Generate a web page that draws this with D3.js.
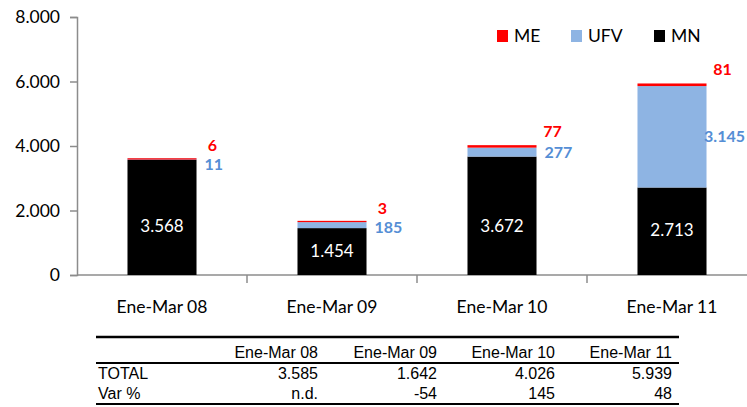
<!DOCTYPE html>
<html>
<head>
<meta charset="utf-8">
<script src="https://cdn.jsdelivr.net/npm/d3@7"></script>
<style>
  body { margin: 0; background: #fff; }
  svg { display: block; }
  .axis path, .axis line { stroke: #8c8c8c; stroke-width: 1.5px; }
  .axis text { font-family: Lato, sans-serif; font-size: 17.5px; fill: #000; }
  .tbl { font-family: "Liberation Sans", Arial, sans-serif; font-size: 16px; fill: #000; }
</style>
</head>
<body>
<svg id="chart" width="747" height="407"></svg>
<script>
// data
let periods = ['Ene-Mar 08', 'Ene-Mar 09', 'Ene-Mar 10', 'Ene-Mar 11'];
let mnValues = [3568, 1454, 3672, 2713];
let ufvValues = [11, 185, 277, 3145];
let meValues = [6, 3, 77, 81];
let totals = [3585, 1642, 4026, 5939];
let varPct = ['n.d.', '-54', '145', '48'];
let yTicks = [0, 2000, 4000, 6000, 8000];
let seriesNames = ['ME', 'UFV', 'MN'];

let colors = { MN: '#000000', UFV: '#8eb4e3', ME: '#ff0000' };
let labelColors = { UFV: '#558ed5', ME: '#ff0000' };

let locale = d3.formatLocale({ decimal: ',', thousands: '.', grouping: [3], currency: ['', ''] });
let fmt = locale.format(',d');

let svg = d3.select('#chart');
let margin = { top: 17, left: 77 };
let plotBottom = 275;
let svgWidth = 747;

let xScale = d3.scaleBand()
  .domain(periods)
  .range([margin.left, margin.left + 170 * 4])
  .paddingInner(0.594)
  .paddingOuter(0.297);
let yScale = d3.scaleLinear()
  .domain([0, 8000])
  .range([plotBottom, margin.top]);

// build stacked rows
let rows = periods.map((p, i) => ({ period: p, MN: mnValues[i], UFV: ufvValues[i], ME: meValues[i] }));
let stack = d3.stack().keys(['MN', 'UFV', 'ME']);
let layers = stack(rows);

// y axis
svg.append('g')
  .attr('class', 'axis')
  .attr('transform', `translate(${margin.left},0)`)
  .call(d3.axisLeft(yScale).tickValues(yTicks).tickFormat(fmt).tickSizeOuter(0).tickSize(7).tickPadding(10));

// x axis (boundary ticks between categories)
let xAxisG = svg.append('g')
  .attr('class', 'axis')
  .attr('transform', `translate(0,${plotBottom})`);
xAxisG.append('line')
  .attr('x1', margin.left).attr('x2', xScale.range()[1])
  .attr('y1', 0).attr('y2', 0);
xAxisG.selectAll('.tk')
  .data(periods.slice(1))
  .join('line')
  .attr('x1', d => xScale(d) - xScale.step() * xScale.paddingInner() / 2)
  .attr('x2', d => xScale(d) - xScale.step() * xScale.paddingInner() / 2)
  .attr('y1', 0).attr('y2', 8);
xAxisG.selectAll('text')
  .data(periods)
  .join('text')
  .attr('x', d => xScale(d) + xScale.bandwidth() / 2)
  .attr('y', 38)
  .attr('text-anchor', 'middle')
  .text(d => d);

// bars
for (let layer of layers) {
  svg.append('g')
    .selectAll('rect')
    .data(layer)
    .join('rect')
    .attr('x', d => xScale(d.data.period))
    .attr('width', xScale.bandwidth())
    .attr('y', d => Math.min(yScale(d[1]), yScale(d[0]) - 1.3))
    .attr('height', d => Math.max(yScale(d[0]) - yScale(d[1]), 1.3))
    .attr('fill', colors[layer.key]);
}

// MN labels inside
svg.append('g')
  .selectAll('text')
  .data(rows)
  .join('text')
  .attr('x', d => xScale(d.period) + xScale.bandwidth() / 2)
  .attr('y', d => yScale(Math.min(d.MN, 3000) / 2) - 1)
  .attr('dy', '0.35em')
  .attr('text-anchor', 'middle')
  .style('font-family', 'Lato, sans-serif')
  .style('font-size', '17px')
  .style('fill', '#fff')
  .text(d => fmt(d.MN));

// UFV and ME labels to the right
rows.forEach((d, i) => {
  let right = xScale(d.period) + xScale.bandwidth();
  let meY = yScale(totals[i]) - 14;
  let ufvY = Math.max(yScale(d.MN + d.UFV / 2), meY + 19);
  let ufvText = svg.append('text')
    .attr('x', right + 8)
    .attr('y', ufvY)
    .attr('dy', '0.35em')
    .style('font-family', 'Lato, sans-serif')
    .style('font-weight', 'bold')
    .style('font-size', '16px')
    .style('fill', labelColors.UFV)
    .text(fmt(d.UFV));
  let bb = ufvText.node().getBBox();
  // keep the label inside the picture
  if (bb.x + bb.width > svgWidth - 2) {
    ufvText.attr('x', svgWidth - 2 - bb.width);
    bb = ufvText.node().getBBox();
  }
  svg.append('text')
    .attr('x', Math.min(bb.x + bb.width / 2, right + 16))
    .attr('y', meY)
    .attr('dy', '0.35em')
    .attr('text-anchor', 'middle')
    .style('font-family', 'Lato, sans-serif')
    .style('font-weight', 'bold')
    .style('font-size', '16px')
    .style('fill', labelColors.ME)
    .text(fmt(d.ME));
});

// legend
let legendX = [497, 571, 654];
let legend = svg.append('g')
  .selectAll('g')
  .data(seriesNames)
  .join('g')
  .attr('transform', (d, i) => `translate(${legendX[i]},30)`);
legend.append('rect')
  .attr('width', 11).attr('height', 12)
  .attr('fill', d => colors[d]);
legend.append('text')
  .attr('x', 17).attr('y', 6)
  .attr('dy', '0.35em')
  .style('font-family', 'Lato, sans-serif')
  .style('font-size', '17.5px')
  .text(d => d);

// table below
let tbl = svg.append('g').attr('class', 'tbl');
let colRight = [318, 437, 555, 672];
let tblLeft = 96, tblRight = 679;
tbl.append('line').attr('x1', tblLeft).attr('x2', tblRight).attr('y1', 337).attr('y2', 337)
  .attr('stroke', '#000').attr('stroke-width', 2.5);
tbl.append('line').attr('x1', tblLeft).attr('x2', tblRight).attr('y1', 363).attr('y2', 363)
  .attr('stroke', '#000').attr('stroke-width', 2);
tbl.append('line').attr('x1', tblLeft).attr('x2', tblRight).attr('y1', 404).attr('y2', 404)
  .attr('stroke', '#000').attr('stroke-width', 2);

let tableRows = [
  { label: '', cells: periods, y: 352 },
  { label: 'TOTAL', cells: totals.map(fmt), y: 373 },
  { label: 'Var %', cells: varPct, y: 393 }
];
for (let r of tableRows) {
  tbl.append('text').attr('x', 98).attr('y', r.y).attr('dy', '0.35em').text(r.label);
  r.cells.forEach((c, i) => {
    tbl.append('text')
      .attr('x', colRight[i]).attr('y', r.y).attr('dy', '0.35em')
      .attr('text-anchor', 'end')
      .text(c);
  });
}
</script>
</body>
</html>
